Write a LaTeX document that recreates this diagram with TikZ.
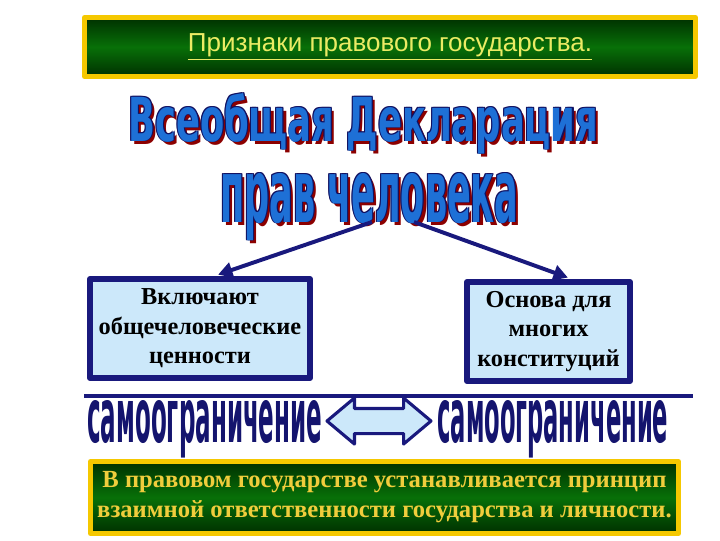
\documentclass[tikz,border=0pt]{standalone}
\usepackage{fontspec}
\usepackage{graphicx}
\setmainfont{Liberation Serif}
\setsansfont{Liberation Sans}
\newfontfamily\condfont{DejaVu Sans Condensed}
\usetikzlibrary{arrows.meta,shapes.arrows}
\definecolor{artblue}{RGB}{30,112,214}
\definecolor{artnavy}{RGB}{16,16,96}
\definecolor{artred}{RGB}{140,0,0}
\definecolor{wordnavy}{RGB}{20,20,110}
\definecolor{linknavy}{RGB}{25,25,125}
\definecolor{boxfill}{RGB}{204,232,250}
\definecolor{gold}{RGB}{245,200,0}
\definecolor{deepgreen}{RGB}{0,48,0}
\definecolor{midgreen}{RGB}{8,112,8}
\definecolor{headtext}{RGB}{235,235,100}
\definecolor{foottext}{RGB}{240,205,60}
\tikzset{
  art/.style={anchor=base west,inner sep=0pt,font=\condfont\bfseries},
  banner/.style={draw=gold,line width=3.5pt,top color=deepgreen,bottom color=deepgreen,middle color=midgreen,inner sep=0pt},
  infobox/.style={draw=linknavy,line width=4.2pt,fill=boxfill,align=center,inner sep=0pt,
    minimum height=2.475cm,font=\bfseries\fontsize{17.3}{21}\selectfont},
  link/.style={draw=linknavy,line width=2.8pt,-{Triangle[length=3.6mm,width=3.8mm]},shorten >=3pt}
}
% one copy of the word-art text, shifted and coloured: dx, dy, colour, width, height, text
\newcommand\artcopy[6]{\makebox[0pt][l]{\hspace{#1}\raisebox{#2}{\color{#3}\resizebox{#4}{#5}{#6}}}}
% word-art text: width, height, text
\newcommand\artlayers[3]{%
  \artcopy{2.2pt}{-2.2pt}{artred}{#1}{#2}{#3}%
  \artcopy{-.7pt}{-.7pt}{artnavy}{#1}{#2}{#3}%
  \artcopy{.7pt}{.7pt}{artnavy}{#1}{#2}{#3}%
  \artcopy{-.7pt}{.7pt}{artnavy}{#1}{#2}{#3}%
  \artcopy{.7pt}{-.7pt}{artnavy}{#1}{#2}{#3}%
  {\color{artblue}\resizebox{#1}{#2}{#3}}}
\begin{document}
\begin{tikzpicture}[x=0.025cm,y=-0.025cm,line join=round]
	\useasboundingbox (0,0) rectangle (720,540);
	% head banner
	\node[banner,minimum width=15.275cm,minimum height=1.475cm,
	  text=headtext,font=\sffamily\fontsize{18.5}{20}\selectfont] (head) at (390,47)
	  {\underline{Признаки правового государства.}};
	% title
	\node[art] (decl) at (128,141) {\artlayers{11.75cm}{1.2cm}{Всеобщая Декларация}};
	\node[art] (rights) at (220,222) {\artlayers{7.45cm}{1.225cm}{прав человека}};
	% boxes
	\node[infobox,minimum width=5.5cm] (lbox) at (200,328.5)
	  {Включают\\общечеловеческие\\ценности};
	\node[infobox,minimum width=4.075cm] (rbox) at (548.5,331.5)
	  {Основа для\\многих\\конституций};
	\coordinate (lstart) at (372,222);
	\coordinate (rstart) at (414,222);
	\draw[link] (lstart) -- (lbox.75);
	\draw[link] (rstart) -- (rbox.66);
	% rule
	\draw[linknavy,line width=2.2pt] (84,396) -- (693,396);
	\node[art,text=wordnavy] (selfl) at (87,442) {\resizebox{5.875cm}{1.05cm}{самоограничение}};
	\node[art,text=wordnavy] (selfr) at (437,442) {\resizebox{5.775cm}{1.05cm}{самоограничение}};
	\node[double arrow,draw=linknavy,fill=boxfill,line width=2.2pt,inner xsep=0pt,inner ysep=0.275cm,
	  minimum height=2.6cm,minimum width=1.075cm,double arrow head extend=0.2625cm,
	  double arrow tip angle=80] (both) at (379,421) {};
	% foot banner
	\node[banner,minimum width=14.7cm,minimum height=1.8cm,align=center,
	  text=foottext,font=\bfseries\fontsize{17.5}{21.3}\selectfont] (foot) at (384.5,497.5)
	  {В правовом государстве устанавливается принцип\\взаимной ответственности государства и личности.};
\end{tikzpicture}
\end{document}
